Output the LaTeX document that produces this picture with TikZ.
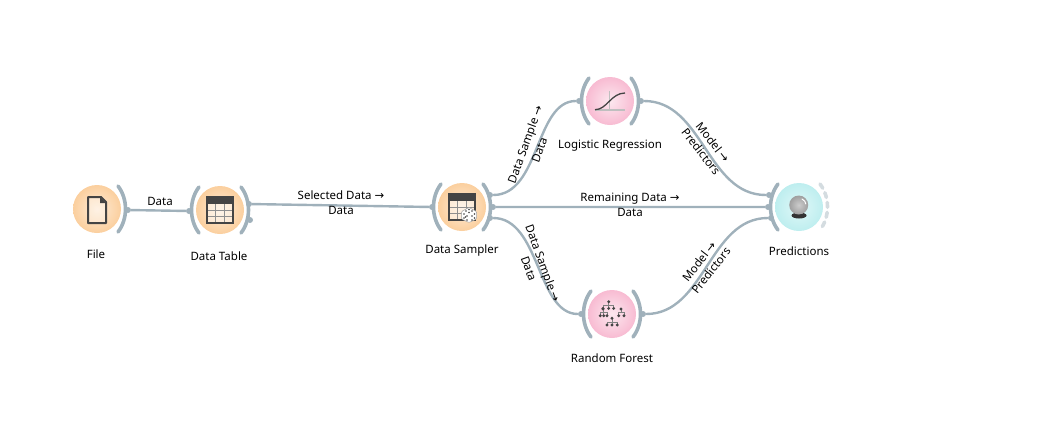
\documentclass[tikz,border=0pt]{standalone}
\usepackage{fontspec}
\setmainfont{Noto Sans}
\newfontfamily\arrowfont{DejaVu Sans}
\newcommand{\toarrow}{{\arrowfont →}}
\usetikzlibrary{calc,positioning,shapes}
\definecolor{linegray}{HTML}{A0B1BB}
\definecolor{icondark}{HTML}{444444}
\definecolor{orangeout}{HTML}{FBCF9E}
\definecolor{orangein}{HTML}{FEEBD6}
\definecolor{pinkout}{HTML}{F8BBD2}
\definecolor{pinkin}{HTML}{FCE8EF}
\definecolor{cyanout}{HTML}{BEEEEF}
\definecolor{cyanin}{HTML}{E0F8F8}
\tikzset{
	x=1pt,y=-1pt,
	widget/.style={circle,draw=none,minimum size=48pt,inner sep=0pt,shading=radial},
	datawidget/.style={widget,inner color=orangein,outer color=orangeout},
	modelwidget/.style={widget,inner color=pinkin,outer color=pinkout},
	evalwidget/.style={widget,inner color=cyanin,outer color=cyanout},
	port/.style={circle,fill=linegray,inner sep=0pt,minimum size=6pt},
	arcline/.style={draw=linegray,line width=3.6pt,line cap=round},
	conn/.style={draw=linegray,line width=2.4pt},
	txt/.style={font=\fontsize{11.5}{15}\selectfont,align=center,inner sep=0pt},
	griddark/.style={draw=icondark,line width=1.3pt},
	gridlight/.style={draw=icondark!60,line width=0.7pt},
}
\begin{document}
\begin{tikzpicture}
	\useasboundingbox (0,0) rectangle (1039,424);
	\node[datawidget](file) at (97,209) {};
	\node[datawidget](table) at (220,210) {};
	\node[datawidget](sampler) at (462,207) {};
	\node[modelwidget](lr) at (610,101) {};
	\node[modelwidget](rf) at (612,314) {};
	\node[evalwidget](pred) at (799,207) {};
	\node[txt](filetxt) at (96,254) {File};
	\node[txt](tabletxt) at (219,256) {Data Table};
	\node[txt](samplertxt) at (462,251) {Data Sampler};
	\node[txt](lrtxt) at (610,146) {Logistic Regression};
	\node[txt](rftxt) at (612,358) {Random Forest};
	\node[txt](predtxt) at (799,251) {Predictions};
	\foreach \w in {table,sampler,lr,rf,pred}
		\draw[arcline] ([shift={(-21,-23)}]\w.center) .. controls ([shift={(-31,-10)}]\w.center) and ([shift={(-31,10)}]\w.center) .. ([shift={(-21,23)}]\w.center);
	\foreach \w in {file,table,sampler,lr,rf}
		\draw[arcline] ([shift={(21,-23)}]\w.center) .. controls ([shift={(31,-10)}]\w.center) and ([shift={(31,10)}]\w.center) .. ([shift={(21,23)}]\w.center);
	\draw[arcline,draw=linegray!45,dash pattern=on 5pt off 5pt] ([shift={(21,-23)}]pred.center) .. controls ([shift={(31,-10)}]pred.center) and ([shift={(31,10)}]pred.center) .. ([shift={(21,23)}]pred.center);
	\node[port](fileout) at (128,210) {};
	\node[port](tablein) at (189,211) {};
	\node[port](tableout) at (249,204) {};
	\node[port](tablealt) at (250,220) {};
	\node[port](samplerin) at (432,207) {};
	\node[port](samplertop) at (490,195) {};
	\node[port](samplermid) at (493,207) {};
	\node[port](samplerbot) at (490,218) {};
	\node[port](lrin) at (579,101) {};
	\node[port](lrout) at (641,101) {};
	\node[port](rfin) at (581,314) {};
	\node[port](rfout) at (643,314) {};
	\node[port](predtop) at (769,195) {};
	\node[port](predmid) at (768,207) {};
	\node[port](predbot) at (771,218) {};
	\path[conn]
		(fileout) -- (tablein)
		(tableout) -- (samplerin)
		(samplermid) -- (predmid)
		(samplertop) .. controls +(50,0) and +(-44,0) .. (lrin)
		(samplerbot) .. controls +(50,0) and +(-44,0) .. (rfin)
		(lrout) .. controls +(62,0) and +(-62,0) .. (predtop)
		(rfout) .. controls +(62,0) and +(-62,0) .. (predbot);
	\node[txt](datatxt) at (160,201) {Data};
	\node[txt](selectedtxt) at (341,203) {Selected Data \toarrow\\Data};
	\node[txt](remainingtxt) at (630,205) {Remaining Data \toarrow\\Data};
	\node[txt,rotate=70](sampletxta) at (532,147) {Data Sample \toarrow\\Data};
	\node[txt,rotate=-70](sampletxtb) at (536,266) {Data Sample \toarrow\\Data};
	\node[txt,rotate=-52](modeltxta) at (707,147) {Model \toarrow\\Predictors};
	\node[txt,rotate=52](modeltxtb) at (705,266) {Model \toarrow\\Predictors};
	\begin{scope}[shift={(97,209)}]
		\draw[griddark,line width=2pt,line join=round,fill=white,fill opacity=0.35] (-9,-12) -- (4,-12) -- (9,-7) -- (9,14) -- (-9,14) -- cycle;
		\fill[icondark] (3,-12) -- (9,-6) -- (3,-6) -- cycle;
	\end{scope}
	\foreach \cx/\cy in {220/210,462/207} {
		\begin{scope}[shift={(\cx,\cy)}]
			\fill[white,opacity=0.45] (-13,-13) rectangle (13,13);
			\fill[icondark] (-13,-13) rectangle (13,-6);
			\draw[gridlight] (-4.5,-6) -- (-4.5,13) (4.5,-6) -- (4.5,13) (-13,0) -- (13,0) (-13,6.5) -- (13,6.5);
			\draw[griddark] (-13,-13) rectangle (13,13);
		\end{scope}
	}
	\begin{scope}[shift={(469,215)}]
		\fill[white,draw=icondark!50,line width=0.5pt,rounded corners=1pt] (-7.5,-3.5) -- (0,-7.5) -- (7.5,-3.5) -- (7.5,4) -- (0,7.5) -- (-7.5,4) -- cycle;
		\foreach \dx/\dy in {-5/-1,-2/1,-5/3,-2/5,-3.5/2,3/1,5.5/-1,3/5,5.5/3,-3/-4,3/-4,0/-5.5,0/-2.5}
			\fill[icondark] (\dx,\dy) circle (0.85);
	\end{scope}
	\begin{scope}[shift={(610,101)}]
		\draw[gray!50,line width=1.2pt] (-0.7,-10) -- (-0.7,9) (-15,9) -- (15,9);
		\draw[icondark,line width=1.3pt] (-15,8.7) .. controls (-3,8.7) and (1,-8) .. (15,-8);
	\end{scope}
	\begin{scope}[shift={(612,314)}]
		\foreach \rx/\ry/\kids in {-3.3/-12.3/{-9,-3.3,1.7},-9/-5/{-11.7,-8.3,-5},9/-5/{6.7,12},0/4.3/{-5,0,5.3}} {
			\foreach \k in \kids {
				\draw[gray,line width=0.5pt] (\rx,\ry) -- (\rx,\ry+3.5) -| (\k,\ry+6.7);
				\fill[icondark] (\k,\ry+6.7) circle (1.6);
			}
			\fill[icondark] (\rx,\ry) circle (1.6);
		}
	\end{scope}
	\begin{scope}[shift={(799,207)}]
		\fill[black!80] (0,8.5) ellipse (7.5 and 3);
		\shade[inner color=gray!40,outer color=gray!75] (-0.3,-2) circle (9.5);
		\draw[white,line width=1pt,line cap=round] (3,-8) .. controls (5.5,-7) and (6.5,-5) .. (6.8,-3);
	\end{scope}
\end{tikzpicture}
\end{document}
